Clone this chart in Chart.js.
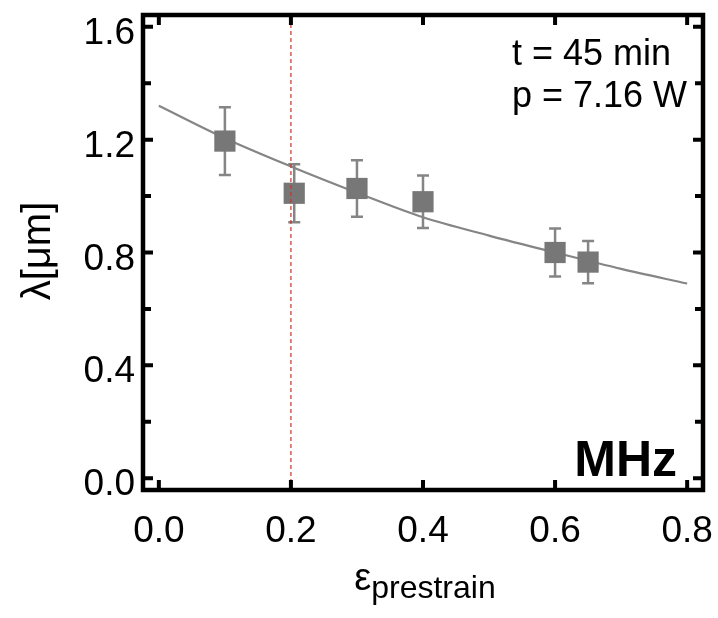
<!DOCTYPE html>
<html>
<head>
<meta charset="utf-8">
<script src="https://cdn.jsdelivr.net/npm/chart.js@4.4.1/dist/chart.umd.min.js"></script>
<style>
html,body{margin:0;padding:0;background:#fff;}
#c{display:block;}
</style>
</head>
<body>
<canvas id="c" width="718" height="618"></canvas>
<script>
// ---- data ----
const strain = [0.1, 0.205, 0.3, 0.4, 0.6, 0.65];
const lambda = [1.195, 1.01, 1.027, 0.98, 0.80, 0.766];
const lambdaErr = [0.12, 0.103, 0.10, 0.093, 0.085, 0.075];
const fitX = [0.0, 0.1, 0.2, 0.3, 0.4, 0.5, 0.6, 0.7, 0.8];
const fitY = [1.32, 1.205, 1.105, 1.012, 0.925, 0.86, 0.80, 0.742, 0.69];
const markerLineX = 0.2;
const xTicks = [0.0, 0.2, 0.4, 0.6, 0.8];
const yTicks = [0.0, 0.2, 0.4, 0.6, 0.8, 1.0, 1.2, 1.4, 1.6];
const yLabelTicks = [0.0, 0.4, 0.8, 1.2, 1.6];
const xRange = [-0.024, 0.824];
const yRange = [-0.042, 1.642];
const annotations = ["t = 45 min", "p = 7.16 W"];
const panelLabel = "MHz";
const xTitleMain = "ε";
const xTitleSub = "prestrain";
const yTitle = "λ[μm]";

const FONT = '"Liberation Sans", Arial, sans-serif';

const framePlugin = {
  id: 'frame',
  beforeDatasetsDraw(chart) {
    const ctx = chart.ctx, xs = chart.scales.x, ys = chart.scales.y;
    ctx.save();
    ctx.strokeStyle = '#858585';
    ctx.lineWidth = 2.5;
    for (let i = 0; i < strain.length; i++) {
      const px = xs.getPixelForValue(strain[i]);
      const top = ys.getPixelForValue(lambda[i] + lambdaErr[i]);
      const bot = ys.getPixelForValue(lambda[i] - lambdaErr[i]);
      ctx.beginPath();
      ctx.moveTo(px, top); ctx.lineTo(px, bot);
      ctx.moveTo(px - 6, top); ctx.lineTo(px + 6, top);
      ctx.moveTo(px - 6, bot); ctx.lineTo(px + 6, bot);
      ctx.stroke();
    }
    ctx.restore();
  },
  afterDraw(chart) {
    const ctx = chart.ctx, a = chart.chartArea, xs = chart.scales.x, ys = chart.scales.y;
    ctx.save();
    // frame
    ctx.strokeStyle = '#000';
    ctx.lineWidth = 4.5;
    ctx.strokeRect(a.left, a.top, a.right - a.left, a.bottom - a.top);
    // ticks (inward)
    ctx.lineWidth = 4;
    ctx.beginPath();
    xTicks.forEach(v => {
      const px = xs.getPixelForValue(v);
      ctx.moveTo(px, a.bottom); ctx.lineTo(px, a.bottom - 10);
      ctx.moveTo(px, a.top); ctx.lineTo(px, a.top + 10);
    });
    yTicks.forEach(v => {
      const py = ys.getPixelForValue(v);
      const major = yLabelTicks.some(t => Math.abs(t - v) < 1e-9);
      const len = major ? 10 : 8;
      ctx.moveTo(a.left, py); ctx.lineTo(a.left + len, py);
      ctx.moveTo(a.right, py); ctx.lineTo(a.right - len, py);
    });
    ctx.stroke();
    // tick labels
    ctx.fillStyle = '#000';
    ctx.font = '37px ' + FONT;
    ctx.textAlign = 'center';
    ctx.textBaseline = 'alphabetic';
    xTicks.forEach(v => {
      ctx.fillText(v.toFixed(1), xs.getPixelForValue(v), a.bottom + 52);
    });
    ctx.textAlign = 'right';
    yLabelTicks.forEach(v => {
      ctx.fillText(v.toFixed(1), a.left - 8, ys.getPixelForValue(v) + 17);
    });
    // annotations
    ctx.textAlign = 'left';
    ctx.font = '36px ' + FONT;
    ctx.fillText(annotations[0], 512, 65);
    ctx.fillText(annotations[1], 512, 107);
    ctx.font = 'bold 50px ' + FONT;
    ctx.textAlign = 'right';
    ctx.fillText(panelLabel, 677, 476);
    // x title
    ctx.textAlign = 'left';
    ctx.font = '38px ' + FONT;
    const wMain = ctx.measureText(xTitleMain).width;
    ctx.font = '32px ' + FONT;
    const wSub = ctx.measureText(xTitleSub).width;
    const cx = (a.left + a.right) / 2 + 2;
    const x0 = cx - (wMain + wSub) / 2;
    ctx.font = '38px ' + FONT;
    ctx.fillText(xTitleMain, x0, 590);
    ctx.font = '32px ' + FONT;
    ctx.fillText(xTitleSub, x0 + wMain, 598);
    // y title
    ctx.translate(50, 251);
    ctx.rotate(-Math.PI / 2);
    ctx.textAlign = 'center';
    ctx.font = '40px ' + FONT;
    ctx.fillText(yTitle, 0, 0);
    ctx.restore();
  }
};

new Chart(document.getElementById('c'), {
  type: 'scatter',
  data: {
    datasets: [
      {
        type: 'line',
        data: fitX.map((x, i) => ({x: x, y: fitY[i]})),
        borderColor: '#858585',
        borderWidth: 2.2,
        pointRadius: 0,
        cubicInterpolationMode: 'monotone',
        fill: false,
        order: 3
      },
      {
        data: strain.map((x, i) => ({x: x, y: lambda[i]})),
        pointStyle: 'rect',
        pointRadius: 15,
        backgroundColor: '#777777',
        borderColor: '#777777',
        borderWidth: 0,
        order: 2
      },
      {
        type: 'line',
        data: [{x: markerLineX, y: yRange[0]}, {x: markerLineX, y: yRange[1]}],
        borderColor: '#c8342c',
        borderWidth: 1.2,
        borderDash: [4, 3],
        pointRadius: 0,
        fill: false,
        order: 1
      }
    ]
  },
  options: {
    responsive: false,
    animation: false,
    events: [],
    layout: { padding: { left: 143, top: 6, right: 15, bottom: 128 } },
    plugins: { legend: { display: false }, tooltip: { enabled: false } },
    scales: {
      x: { type: 'linear', min: xRange[0], max: xRange[1], display: false },
      y: { type: 'linear', min: yRange[0], max: yRange[1], display: false }
    }
  },
  plugins: [framePlugin]
});
</script>
</body>
</html>
